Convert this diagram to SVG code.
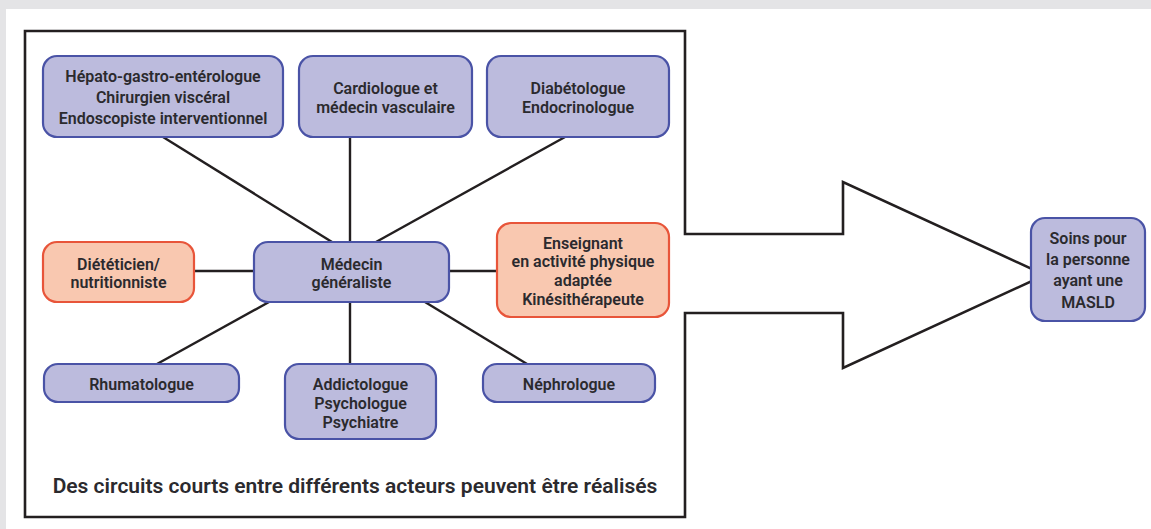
<svg xmlns="http://www.w3.org/2000/svg" width="1151" height="529" viewBox="0 0 1151 529">
<style>
.b{fill:#bcbbdd;stroke:#4a53a6;stroke-width:2.2}
.o{fill:#f9c8b0;stroke:#e8553a;stroke-width:2.2}
text{font-family:Roboto,"Liberation Sans",sans-serif;font-weight:600;fill:#2b2a2e;text-anchor:middle}
.t{font-size:16px}
.s{font-size:16px}
.c{stroke:#231f20;stroke-width:2.4;fill:none}
</style>
<rect x="0" y="0" width="1151" height="529" fill="#ffffff"/>
<rect x="0" y="0" width="1151" height="9" fill="#e4e4e6"/>
<rect x="0" y="0" width="6" height="529" fill="#e4e4e6"/>
<path d="M25,31 H685 V234 H843 V182 L1045,275 L843,368 V313 H685 V517 H25 Z" fill="#ffffff" stroke="#231f20" stroke-width="2.6"/>
<g id="connectors">
<line class="c" x1="163" y1="137" x2="332" y2="242"/>
<line class="c" x1="350" y1="137" x2="350" y2="242"/>
<line class="c" x1="565" y1="137" x2="376" y2="242"/>
<line class="c" x1="194" y1="271" x2="254" y2="271"/>
<line class="c" x1="449" y1="271" x2="497" y2="271"/>
<line class="c" x1="269" y1="302" x2="157" y2="364"/>
<line class="c" x1="350" y1="302" x2="350" y2="364"/>
<line class="c" x1="425" y1="302" x2="527" y2="364"/>
</g>
<g id="hepato">
<rect class="b" x="43" y="56" width="240" height="81" rx="14"/>
<text class="t" x="163" y="81.5">Hépato-gastro-entérologue</text>
<text class="t" x="163" y="103">Chirurgien viscéral</text>
<text class="t" x="163" y="123.5">Endoscopiste interventionnel</text>
</g>
<g id="cardio">
<rect class="b" x="299" y="56" width="173" height="81" rx="14"/>
<text class="t" x="385.5" y="93.5">Cardiologue et</text>
<text class="t" x="385.5" y="112.5">médecin vasculaire</text>
</g>
<g id="diabeto">
<rect class="b" x="487" y="56" width="182" height="81" rx="14"/>
<text class="t" x="578" y="93.5">Diabétologue</text>
<text class="t" x="578" y="112.5">Endocrinologue</text>
</g>
<g id="dieteticien">
<rect class="o" x="43" y="242" width="151" height="60" rx="14"/>
<text class="t" x="118.5" y="269.5">Diététicien/</text>
<text class="t" x="118.5" y="287.5">nutritionniste</text>
</g>
<g id="medecin">
<rect class="b" x="254" y="242" width="195" height="60" rx="14"/>
<text class="t" x="351.5" y="269.5">Médecin</text>
<text class="t" x="351.5" y="287.5">généraliste</text>
</g>
<g id="enseignant">
<rect class="o" x="497" y="223" width="172" height="94" rx="14"/>
<text class="t" x="583" y="248.5">Enseignant</text>
<text class="t" x="583" y="267">en activité physique</text>
<text class="t" x="583" y="285.5">adaptée</text>
<text class="t" x="583" y="304.5">Kinésithérapeute</text>
</g>
<g id="rhumato">
<rect class="b" x="44" y="364" width="195" height="38" rx="14"/>
<text class="t" x="141.5" y="389.5">Rhumatologue</text>
</g>
<g id="addicto">
<rect class="b" x="285" y="364" width="151" height="75" rx="14"/>
<text class="t" x="360.5" y="389.5">Addictologue</text>
<text class="t" x="360.5" y="408.5">Psychologue</text>
<text class="t" x="360.5" y="427.5">Psychiatre</text>
</g>
<g id="nephro">
<rect class="b" x="483" y="364" width="172" height="38" rx="14"/>
<text class="t" x="569" y="389.5">Néphrologue</text>
</g>
<g id="masld">
<rect class="b" x="1031" y="218" width="114" height="103" rx="14"/>
<text class="s" x="1088" y="243.5">Soins pour</text>
<text class="s" x="1088" y="265">la personne</text>
<text class="s" x="1088" y="286">ayant une</text>
<text class="s" x="1088" y="307.5">MASLD</text>
</g>
<g id="caption">
<text x="355" y="492.5" style="font-size:21px">Des circuits courts entre différents acteurs peuvent être réalisés</text>
</g>
</svg>
